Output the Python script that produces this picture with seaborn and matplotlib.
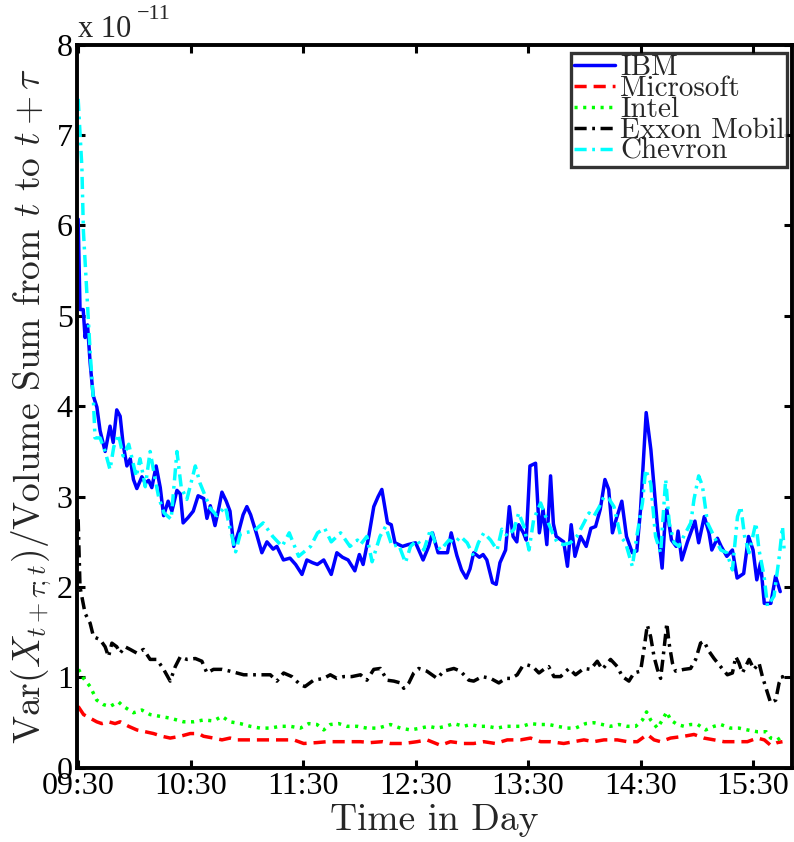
import numpy as np
import pandas as pd
import matplotlib
matplotlib.use("Agg")
import matplotlib.pyplot as plt
import seaborn as sns

# Minutes after the 09:30 open and variance/volume ratio (units of 1e-11)
ibm_min = [0, 1, 2.7, 3.7, 5, 6.4, 8, 10, 11.7, 14.4, 17, 18.7, 20.6, 22.4, 24, 26, 27.8, 29.5,
           31.3, 34, 35.8, 37.6, 39.3, 41.6, 43.8, 45.6, 48, 50, 52.7, 54.5, 56, 58.7, 61.4, 64,
           67, 68.7, 70.5, 73, 74.8, 76.7, 79, 81, 83, 85.7, 88, 90, 92, 95, 98, 100.7, 104, 106,
           109.5, 113, 116, 119.4, 122, 125, 127.6, 131, 135, 138, 141, 144, 147.6, 150, 152, 155,
           157.7, 160, 162, 165, 167, 169, 173, 176, 180, 184, 187, 189, 192, 197, 199, 202, 204.5,
           207, 209, 211, 214, 216, 218, 221, 223, 225, 228, 230, 232, 234, 235, 237.5, 239, 241,
           244, 246, 248, 250, 252, 253.5, 255, 259, 261, 263, 265, 268, 271, 273.5, 276, 278.5,
           281, 283, 285, 287, 290, 292.5, 295.6, 298, 300, 303, 305.5, 309, 311.5, 313, 314,
           316.5, 319, 320, 322, 325, 329, 331, 334, 336.5, 338, 341, 343, 346, 349, 351.5, 355,
           357.6, 360, 362, 364, 366, 369.5, 372, 374.5]
ibm_val = [6.07, 5.07, 5.07, 4.76, 4.9, 4.48, 4.12, 3.99, 3.73, 3.5, 3.78, 3.6, 3.96, 3.89, 3.58,
           3.34, 3.42, 3.19, 3.09, 3.22, 3.15, 3.18, 3.1, 3.34, 3.1, 2.79, 2.95, 2.84, 3.07, 3.03,
           2.71, 2.77, 2.84, 3.01, 2.98, 2.76, 2.9, 2.68, 2.85, 3.05, 2.95, 2.84, 2.45, 2.62, 2.8,
           2.89, 2.8, 2.6, 2.38, 2.5, 2.42, 2.45, 2.3, 2.32, 2.25, 2.14, 2.3, 2.27, 2.25, 2.3, 2.14,
           2.38, 2.33, 2.3, 2.18, 2.36, 2.25, 2.56, 2.89, 3.0, 3.08, 2.71, 2.69, 2.49, 2.45, 2.47,
           2.49, 2.3, 2.45, 2.6, 2.38, 2.38, 2.6, 2.35, 2.19, 2.1, 2.2, 2.38, 2.33, 2.36, 2.3, 2.05,
           2.03, 2.27, 2.41, 2.89, 2.56, 2.5, 2.69, 2.6, 2.52, 3.34, 3.37, 2.6, 2.86, 2.47, 3.23,
           2.7, 2.56, 2.5, 2.23, 2.69, 2.34, 2.56, 2.45, 2.65, 2.67, 2.86, 3.19, 3.08, 2.6, 2.75,
           2.95, 2.56, 2.38, 2.4, 2.86, 3.93, 3.52, 2.67, 2.21, 2.71, 2.86, 2.52, 2.45, 2.62, 2.3,
           2.5, 2.73, 2.49, 2.78, 2.6, 2.41, 2.54, 2.45, 2.34, 2.41, 2.1, 2.15, 2.56, 2.41, 2.08,
           2.27, 1.82, 1.82, 2.12, 1.95]

msft_min = [0, 2.9, 6.4, 9.9, 12.6, 16.2, 19.7, 22.4, 26.9, 31.3, 35.8, 40.2, 44.7, 49.1, 54.5,
            59.8, 64.2, 66.9, 72.2, 76.7, 81, 84.7, 91.8, 97.2, 104.3, 109.6, 115, 120.3, 127.4,
            132.8, 139.9, 145.2, 150.6, 156, 162.2, 166.6, 173.7, 180.8, 186.1, 193.3, 198.6,
            205.7, 211, 216.4, 222.6, 228.9, 236, 241.3, 246.7, 252, 259, 264.4, 269.8, 275,
            280.5, 287.6, 293, 298.3, 303.6, 307.2, 310.7, 316, 323.2, 328.5, 333.8, 339.2,
            344.5, 351.7, 357, 362.3, 366, 369.4, 373, 375.7]
msft_val = [0.68, 0.59, 0.55, 0.51, 0.49, 0.51, 0.49, 0.51, 0.46, 0.42, 0.4, 0.38, 0.35, 0.33,
            0.35, 0.38, 0.38, 0.35, 0.33, 0.31, 0.33, 0.31, 0.31, 0.31, 0.31, 0.31, 0.31, 0.27,
            0.28, 0.29, 0.29, 0.29, 0.29, 0.28, 0.29, 0.27, 0.27, 0.29, 0.31, 0.25, 0.29, 0.27,
            0.27, 0.29, 0.27, 0.31, 0.31, 0.33, 0.29, 0.29, 0.27, 0.29, 0.31, 0.29, 0.31, 0.31,
            0.29, 0.29, 0.37, 0.31, 0.29, 0.33, 0.35, 0.37, 0.33, 0.31, 0.29, 0.29, 0.29, 0.33,
            0.31, 0.25, 0.28, 0.29]

intel_min = [0.2, 2.9, 6.4, 9.9, 13.5, 17, 21.5, 24.2, 29.5, 34, 38.4, 43.8, 49.1, 56.2, 61.6,
             66.9, 72.2, 76.7, 81, 86.5, 91.8, 97.2, 102.5, 107.7, 113.2, 118.5, 123, 127.4, 131,
             134.5, 139, 143.4, 148.8, 154, 160, 166.6, 171.9, 177.3, 182.6, 187, 191.5, 196,
             200.4, 205.7, 209.3, 213.7, 218.2, 223.5, 228, 232.4, 236.9, 241.3, 245.8, 251.1,
             255.6, 260.9, 265.3, 270.7, 275.1, 279.6, 284, 288.5, 292.9, 297.4, 301, 303.2,
             305.4, 309, 311.6, 314, 316, 319.6, 323.2, 326.7, 330.5, 334.7, 339.2, 342.7, 348,
             352.5, 357, 362.3, 367, 369.4, 373, 375.7]
intel_val = [1.09, 0.99, 0.9, 0.75, 0.7, 0.68, 0.73, 0.68, 0.61, 0.64, 0.59, 0.57, 0.55, 0.51,
             0.51, 0.53, 0.52, 0.57, 0.51, 0.49, 0.46, 0.44, 0.44, 0.46, 0.46, 0.44, 0.49, 0.48,
             0.42, 0.48, 0.49, 0.46, 0.46, 0.44, 0.44, 0.48, 0.44, 0.42, 0.44, 0.46, 0.44, 0.46,
             0.49, 0.46, 0.48, 0.46, 0.46, 0.44, 0.46, 0.46, 0.46, 0.49, 0.48, 0.48, 0.46, 0.44,
             0.44, 0.49, 0.5, 0.48, 0.46, 0.48, 0.46, 0.46, 0.53, 0.62, 0.53, 0.44, 0.53, 0.62,
             0.53, 0.48, 0.46, 0.48, 0.48, 0.42, 0.46, 0.48, 0.44, 0.44, 0.42, 0.4, 0.4, 0.33,
             0.31, 0.35]

xom_min = [0, 1, 3.7, 6.4, 8.2, 11.7, 14.4, 16.2, 18, 20.6, 22.4, 25, 27.8, 31.3, 34.9, 38.4,
           42, 45.6, 49.1, 51.8, 54.5, 58, 62.5, 66, 68.7, 72.2, 76.7, 81, 84.7, 88.3, 92.7,
           97.2, 102.5, 106, 109.6, 114, 118.5, 121, 125.6, 131, 134.5, 138, 141.7, 146, 150.6,
           154, 157.7, 161.2, 164.8, 168.4, 171.9, 173.7, 176.4, 179, 181.7, 186, 191.5, 195,
           200.4, 204, 208.4, 211, 215.5, 220, 224.4, 228, 231, 234.2, 236.9, 239.5, 242.5,
           245.8, 248.4, 251, 253.8, 257.3, 261.8, 265.3, 269.8, 273.3, 276.9, 279.6, 284,
           287.6, 290.3, 293.8, 296.5, 300, 301.8, 303.6, 305.4, 307.2, 309, 310.7, 312.5, 314,
           315.2, 317, 318.7, 323.2, 326.7, 329.4, 332, 333.8, 336.5, 339.2, 342.7, 346.3, 349,
           350.8, 352.5, 354.3, 357.9, 360.5, 363.2, 365, 367.7, 369.4, 372.1, 373.9, 375.7,
           376.6]
xom_val = [2.75, 2.0, 1.71, 1.6, 1.45, 1.42, 1.34, 1.23, 1.38, 1.34, 1.27, 1.34, 1.31, 1.27,
           1.31, 1.2, 1.2, 1.09, 0.96, 1.12, 1.23, 1.2, 1.21, 1.18, 1.05, 1.09, 1.09, 1.07, 1.05,
           1.03, 1.03, 1.03, 1.03, 0.96, 1.05, 1.01, 0.92, 0.9, 0.97, 0.99, 1.03, 0.99, 1.01,
           1.01, 1.03, 0.97, 1.09, 1.1, 0.97, 0.96, 0.94, 0.88, 0.94, 1.05, 1.1, 1.07, 0.99,
           1.07, 1.1, 1.07, 0.97, 0.96, 1.01, 0.99, 0.94, 0.99, 0.99, 1.03, 1.12, 1.14, 1.12,
           1.05, 1.09, 1.12, 1.01, 1.01, 1.1, 1.03, 1.1, 1.09, 1.18, 1.09, 1.2, 1.12, 1.01,
           0.96, 1.05, 1.07, 1.31, 1.58, 1.45, 1.23, 1.09, 0.99, 1.31, 1.6, 1.38, 1.16, 1.07,
           1.09, 1.1, 1.2, 1.38, 1.4, 1.29, 1.21, 1.12, 1.03, 1.05, 1.23, 1.16, 1.05, 1.2, 1.09,
           1.16, 1.01, 0.83, 0.72, 0.75, 0.94, 1.01, 0.94]

cvx_min = [0, 2, 2.8, 4.6, 6.4, 8.2, 9, 11.7, 14.4, 17, 19, 21.5, 24, 27, 29, 31, 33, 35.8,
           38.4, 41, 43, 45.8, 49.6, 52.7, 55, 58, 62.5, 65, 68.5, 70.5, 74, 78.6, 80, 84,
           86.5, 88.6, 93.7, 98.7, 103.8, 108.8, 112.6, 117.6, 124, 127.7, 131.5, 135, 140, 145,
           149, 150.6, 154, 156.8, 161, 164, 167.5, 171, 174.6, 177.3, 180.8, 184.4, 188, 190.5,
           193.3, 197.8, 201, 204, 207.5, 211, 213.5, 216.4, 220, 223.5, 226, 229, 232.5, 235,
           237.8, 240.5, 243, 246.7, 249.4, 253, 255.6, 259, 262.5, 266, 269.8, 272.5, 275,
           277.8, 280.5, 283, 285.8, 289.4, 292, 295.6, 298.3, 301, 302.7, 305.4, 308, 310.7,
           313.4, 315.3, 317.9, 320.5, 323, 326.8, 328.5, 331, 333, 335.7, 339.2, 342.8, 346,
           349, 351.7, 353.5, 355.5, 357.9, 361.5, 363.2, 365.9, 367.7, 371.2, 374, 375.7, 376.6]
cvx_val = [7.4, 6.64, 5.94, 5.26, 4.6, 4.04, 3.65, 3.65, 3.5, 3.3, 3.55, 3.69, 3.45, 3.58, 3.4,
           3.22, 3.42, 3.11, 3.5, 3.2, 2.99, 2.82, 2.75, 3.5, 3.1, 2.97, 3.34, 3.15, 2.97, 2.87,
           2.79, 2.89, 2.74, 2.39, 2.59, 2.6, 2.62, 2.71, 2.56, 2.45, 2.6, 2.34, 2.45, 2.6, 2.65,
           2.5, 2.6, 2.45, 2.52, 2.47, 2.56, 2.28, 2.56, 2.67, 2.45, 2.47, 2.27, 2.45, 2.52, 2.41,
           2.64, 2.49, 2.41, 2.52, 2.49, 2.56, 2.49, 2.34, 2.49, 2.6, 2.52, 2.41, 2.64, 2.56,
           2.64, 2.82, 2.67, 2.41, 2.75, 2.93, 2.78, 2.6, 2.49, 2.47, 2.49, 2.56, 2.71, 2.82,
           2.78, 2.88, 3.0, 2.98, 2.89, 2.56, 2.49, 2.23, 2.6, 2.93, 3.3, 3.15, 2.56, 2.38, 3.19,
           2.71, 2.49, 2.45, 2.56, 2.71, 2.97, 3.23, 3.12, 2.71, 2.56, 2.41, 2.38, 2.19, 2.78,
           2.89, 2.56, 2.38, 2.71, 2.41, 2.12, 1.79, 1.9, 2.34, 2.67, 2.41]

tick_minutes = [0, 60, 120, 180, 240, 300, 360]
tick_labels = ["09:30", "10:30", "11:30", "12:30", "13:30", "14:30", "15:30"]
y_ticks = [0, 1, 2, 3, 4, 5, 6, 7, 8]

series = [
    ("IBM", ibm_min, ibm_val, (0, 0, 1), "-"),
    ("Microsoft", msft_min, msft_val, (1, 0, 0), (0, (3.5, 2.0))),
    ("Intel", intel_min, intel_val, (0, 1, 0), (0, (0.9, 1.6))),
    ("Exxon Mobil", xom_min, xom_val, (0, 0, 0), (0, (3.5, 1.6, 0.8, 1.6))),
    ("Chevron", cvx_min, cvx_val, (0, 1, 1), (0, (3.5, 1.6, 0.8, 1.6))),
]

sns.set_theme(style="white")
plt.rcParams["font.family"] = ["Liberation Serif", "DejaVu Serif"]
plt.rcParams["mathtext.fontset"] = "cm"
plt.rcParams["axes.formatter.use_mathtext"] = True

fig = plt.figure(figsize=(7.94, 8.42), dpi=100)
ax = fig.add_axes([0.097, 0.088, 0.901, 0.859])

for name, mins, vals, col, ls in series:
    df = pd.DataFrame({"minute": mins, "value": vals})
    sns.lineplot(data=df, x="minute", y="value", ax=ax, color=col, linestyle=ls,
                 linewidth=2.5, label=name, estimator=None, sort=False)

ax.set_xlim(-0.6, 381)
ax.set_ylim(0, 8)
ax.set_xticks(tick_minutes)
ax.set_xticklabels(tick_labels)
ax.set_yticks(y_ticks)
ax.set_yticklabels([str(v) for v in y_ticks])
ax.tick_params(direction="in", length=6, width=2.2, labelsize=23, pad=3,
               top=True, right=True, bottom=True, left=True, colors="black")
for lab in ax.get_xticklabels() + ax.get_yticklabels():
    lab.set_fontfamily("Liberation Serif")
for sp in ax.spines.values():
    sp.set_linewidth(2.8)
    sp.set_color("black")

ax.set_xlabel("Time in Day", fontfamily="cmr10", fontsize=27, labelpad=2)
ax.set_ylabel(r"Var$(X_{t+\tau;t})$/Volume Sum from $t$ to $t+\tau$",
              fontfamily="cmr10", fontsize=27, labelpad=2)

fig.text(78 / 794, 1 - 37 / 842, "x 10", fontsize=22, fontfamily="Liberation Serif",
         ha="left", va="baseline")
fig.text(137 / 794, 1 - 19 / 842, "\u221211", fontsize=16, fontfamily="Liberation Serif",
         ha="left", va="baseline")

leg = ax.legend(loc="upper right", bbox_to_anchor=(0.993, 0.989), frameon=True,
                fancybox=False, shadow=False, prop={"family": "cmr10", "size": 21},
                labelspacing=-0.19, handlelength=1.4, handletextpad=0.2,
                borderpad=0.08, borderaxespad=0.0)
leg.get_frame().set_edgecolor("black")
leg.get_frame().set_linewidth(2.4)
for line in leg.get_lines():
    line.set_linewidth(2.5)

fig.savefig("out.png", dpi=100, facecolor="white")
